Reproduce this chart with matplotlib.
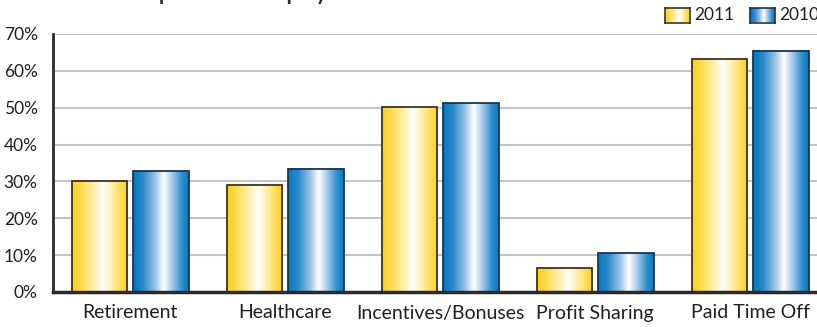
import numpy as np
import matplotlib.pyplot as plt
from matplotlib.colors import LinearSegmentedColormap
from matplotlib.patches import Rectangle

plt.rcParams['font.family'] = ['Lato', 'DejaVu Sans']

categories = ['Retirement', 'Healthcare', 'Incentives/Bonuses', 'Profit Sharing', 'Paid Time Off']
series_names = ['2011', '2010']
vals_2011 = [30.1, 29.0, 50.1, 6.5, 63.1]
vals_2010 = [32.8, 33.4, 51.2, 10.5, 65.5]
yticks = [0, 10, 20, 30, 40, 50, 60, 70]

gold = LinearSegmentedColormap.from_list('gold', [
    (0.0, '#FDD01A'), (0.15, '#FED94A'), (0.4, '#FFF0B0'), (0.55, '#FFFFFF'),
    (0.7, '#FFF0B5'), (0.88, '#FEDC50'), (1.0, '#FDD020')])
steel = LinearSegmentedColormap.from_list('steel', [
    (0.0, '#0478C0'), (0.18, '#2A8ACB'), (0.4, '#9CC3E6'), (0.55, '#FFFFFF'),
    (0.7, '#A9CBEA'), (0.88, '#2F8DCD'), (1.0, '#0678BF')])
ramp = np.linspace(0, 1, 256).reshape(1, -1)

W, H = 817, 327
fig = plt.figure(figsize=(W / 100, H / 100), dpi=100)
ax = fig.add_axes([53 / W, (H - 292) / H, (W - 53) / W, (292 - 34) / H])


def gradient_bar(ax, x0, width, height, cmap, edge):
    ax.imshow(ramp, cmap=cmap, extent=[x0, x0 + width, 0, height],
              aspect='auto', interpolation='bilinear', zorder=3)
    ax.add_patch(Rectangle((x0, 0), width, height, fill=False,
                           edgecolor=edge, linewidth=1.3, zorder=4))


bw = 0.36
offsets = [-0.197, 0.2]
x = np.arange(len(categories))
for i in range(len(categories)):
    gradient_bar(ax, x[i] + offsets[0] - bw / 2, bw, vals_2011[i], gold, '#3b3520')
    gradient_bar(ax, x[i] + offsets[1] - bw / 2, bw, vals_2010[i], steel, '#1b3550')

ax.set_xlim(-0.497, 4.432)
ax.set_ylim(0, 70)
ax.set_yticks(yticks)
ax.set_yticklabels([f'{t}%' for t in yticks], fontsize=12.5, color='#231f20')
ax.set_xticks(x)
ax.set_xticklabels(categories, fontsize=14, color='#231f20')
ax.tick_params(axis='both', length=0)
ax.tick_params(axis='y', pad=11)
ax.tick_params(axis='x', pad=9)
ax.grid(axis='y', color='#c4c4c4', linewidth=1.5, zorder=0)
ax.set_axisbelow(True)
for s in ['top', 'right']:
    ax.spines[s].set_visible(False)
ax.spines['left'].set_color('#2a2a2a')
ax.spines['left'].set_linewidth(2)
ax.spines['bottom'].set_color('#2a2a2a')
ax.spines['bottom'].set_linewidth(2.5)
ax.spines['bottom'].set_zorder(5)

# top-right legend with gradient swatches
for name, cmap, edge, sx in [(series_names[0], gold, '#3b3520', 665),
                             (series_names[1], steel, '#1b3550', 750)]:
    sw = fig.add_axes([sx / W, (H - 22.5) / H, 25 / W, 14.5 / H])
    sw.imshow(ramp, cmap=cmap, aspect='auto', interpolation='bilinear')
    sw.set_xticks([])
    sw.set_yticks([])
    for s in sw.spines.values():
        s.set_color(edge)
        s.set_linewidth(1.2)
    fig.text((sx + 29) / W, (H - 15.5) / H, name, fontsize=12.5,
             color='#231f20', va='center', ha='left')

# title runs off the top edge
fig.text(45 / W, 1.0, 'Annual Comparison of Employee Benefits',
         fontsize=15, fontweight='bold', color='#2b2b2b', va='baseline', ha='left')

fig.savefig('out.png', dpi=100)
